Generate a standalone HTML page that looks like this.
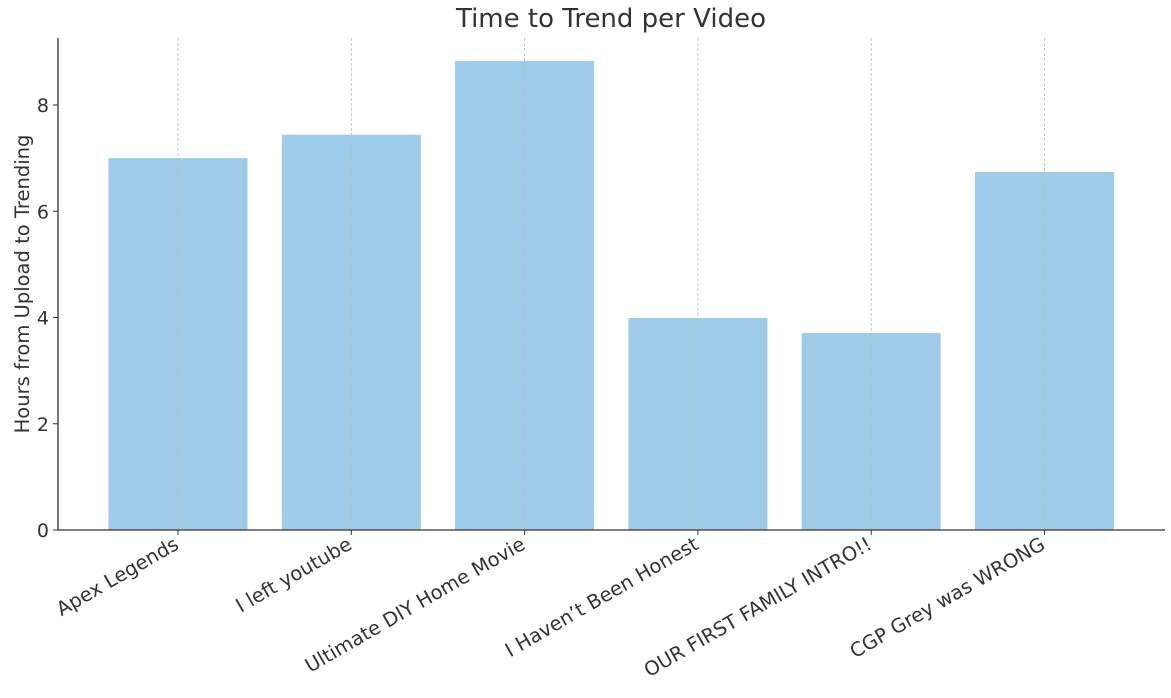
<!DOCTYPE html>
<html><head><meta charset="utf-8"><style>
body{margin:0;background:#fff;}
svg text{font-family:"DejaVu Sans","Liberation Sans",sans-serif;fill:#333;}
</style></head><body>
<svg id="chart" width="1171" height="693" xmlns="http://www.w3.org/2000/svg">
<text x="611" y="27" text-anchor="middle" font-size="26">Time to Trend per Video</text>
<text transform="translate(29,284) rotate(-90)" text-anchor="middle" font-size="19.5">Hours from Upload to Trending</text>
<g id="bars"></g><g id="grid"></g><g id="yticks"></g><g id="xticks"></g>
<line x1="58" y1="38" x2="58" y2="530" stroke="#333" stroke-width="1.3"/>
<line x1="58" y1="530" x2="1165" y2="530" stroke="#333" stroke-width="1.3"/>
</svg>
<script>
const categories=["Apex Legends","I left youtube","Ultimate DIY Home Movie","I Haven\u2019t Been Honest","OUR FIRST FAMILY INTRO!!","CGP Grey was WRONG"];
const values=[7.0,7.44,8.83,3.99,3.71,6.74];
const yTicks=[0,2,4,6,8];
const NS="http://www.w3.org/2000/svg";
const y=v=>530-v*53.125;
const x=i=>178+173.3*i;
const bw=139;
function mk(t,a,p){const e=document.createElementNS(NS,t);for(const k in a)e.setAttribute(k,a[k]);document.getElementById(p).appendChild(e);return e;}
categories.forEach((c,i)=>{
 const r=mk('rect',{x:x(i)-bw/2,y:y(values[i]),width:bw,height:530-y(values[i]),fill:'#9ecbe8'},'bars');
 
 
 const g=mk('line',{x1:x(i),x2:x(i),y1:38,y2:530,stroke:'#bbb','stroke-width':0.8,'stroke-dasharray':'3,2'},'grid');
 
 
 const tk=mk('line',{x1:x(i),x2:x(i),y1:530,y2:535,stroke:'#333'},'xticks');
 
 
 const t=mk('text',{transform:`translate(${x(i)+2},${548}) rotate(-30)`,'text-anchor':'end','font-size':19.5},'xticks');
 t.textContent=c;
 
 
});
yTicks.forEach(v=>{
 const l=mk('line',{x1:53,x2:58,y1:y(v),y2:y(v),stroke:'#333'},'yticks');
 
 
 const t=mk('text',{x:49,y:y(v)+7,'text-anchor':'end','font-size':19},'yticks');
 t.textContent=v;
 
 
});
</script>
</body></html>
